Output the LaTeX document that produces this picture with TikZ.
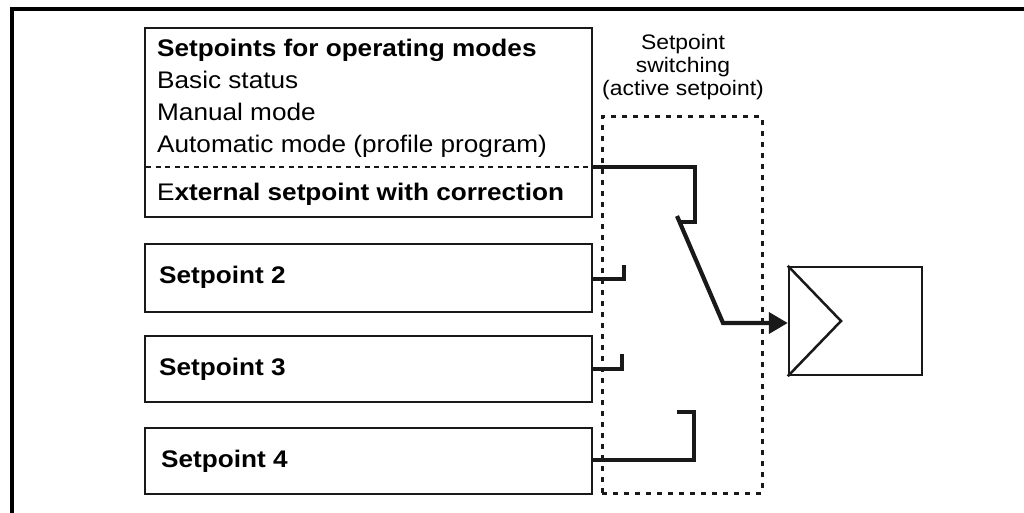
\documentclass[tikz,border=0pt]{standalone}
\usepackage{fontspec}
\setmainfont{Liberation Sans}[FakeStretch=1.09]
\usetikzlibrary{arrows.meta}
\begin{document}
\begin{tikzpicture}[x=1pt,y=-1pt,
  box/.style={draw=black!90,line width=2.5pt,rectangle,inner sep=0pt},
  txt/.style={anchor=base west,inner sep=0pt,font=\fontsize{24}{28}\selectfont},
  stxt/.style={anchor=base,inner sep=0pt,font=\fontsize{21}{25}\selectfont},
  conn/.style={draw=black!90,line width=4.2pt,line cap=butt,line join=miter},
  dotbox/.style={draw=black!90,line width=3pt,dash pattern=on 5pt off 6pt,rectangle,inner sep=0pt},
  frame/.style={draw=black,line width=4pt}]
\useasboundingbox (0,0) rectangle (1024,513);
% outer frame
\coordinate (fbl) at (12,513);
\coordinate (ftl) at (12,9);
\coordinate (ftr) at (1024,9);
\draw[frame] (fbl) -- (ftl) -- (ftr);
% boxes
\node[box,minimum width=447pt,minimum height=189pt] (modes) at (368.5,122.5) {};
\node[box,minimum width=447pt,minimum height=68pt] (sp2) at (368.5,278) {};
\node[box,minimum width=447pt,minimum height=66pt] (sp3) at (368.5,369) {};
\node[box,minimum width=447pt,minimum height=66pt] (sp4) at (368.5,461) {};
\node[dotbox,minimum width=160pt,minimum height=376pt] (sw) at (682,305) {};
\node[box,minimum width=133pt,minimum height=108pt] (ctrl) at (855.5,321) {};
% triangle in controller
\coordinate (tri) at (841,321);
\draw[draw=black!90,line width=2.5pt,line join=miter] (ctrl.north west) -- (tri) -- (ctrl.south west);
% texts
\node[txt] (t1) at (157,57) {\bfseries Setpoints for operating modes};
\node[txt] (t2) at (157,89) {Basic status};
\node[txt] (t3) at (157,121) {Manual mode};
\node[txt] (t4) at (157,153) {Automatic mode (profile program)};
\node[txt] (t5) at (157,200) {E\textbf{xternal setpoint with correction}};
\node[txt] (t6) at (159,283) {\bfseries Setpoint 2};
\node[txt] (t7) at (159,375) {\bfseries Setpoint 3};
\node[txt] (t8) at (161,467) {\bfseries Setpoint 4};
\node[stxt] (s1) at (683,50) {Setpoint};
\node[stxt] (s2) at (683,73) {switching};
\node[stxt] (s3) at (683,96) {(active setpoint)};
% separator
\coordinate (sepl) at (146,167);
\coordinate (sepr) at (591,167);
\draw[draw=black!90,line width=1.8pt,dash pattern=on 5pt off 4.5pt] (sepl) -- (sepr);
% connectors
\coordinate (c1a) at (695,167);
\coordinate (c1b) at (695,222);
\coordinate (c1c) at (678,222);
\draw[conn] (sepr) -- (c1a) -- (c1b) -- (c1c);
\coordinate (bl1) at (677,216);
\coordinate (bl2) at (723,323);
\draw[conn,-{Triangle[length=19pt,width=21pt]}] (bl1) -- (bl2) -- (ctrl.west |- bl2);
\coordinate (c2a) at (624,279);
\coordinate (c2b) at (624,265);
\draw[conn] (sp2.east |- c2a) -- (c2a) -- (c2b);
\coordinate (c3a) at (622,369);
\coordinate (c3b) at (622,354);
\draw[conn] (sp3.east |- c3a) -- (c3a) -- (c3b);
\coordinate (c4a) at (694,460);
\coordinate (c4b) at (694,412);
\coordinate (c4c) at (677,412);
\draw[conn] (sp4.east |- c4a) -- (c4a) -- (c4b) -- (c4c);
\end{tikzpicture}
\end{document}
